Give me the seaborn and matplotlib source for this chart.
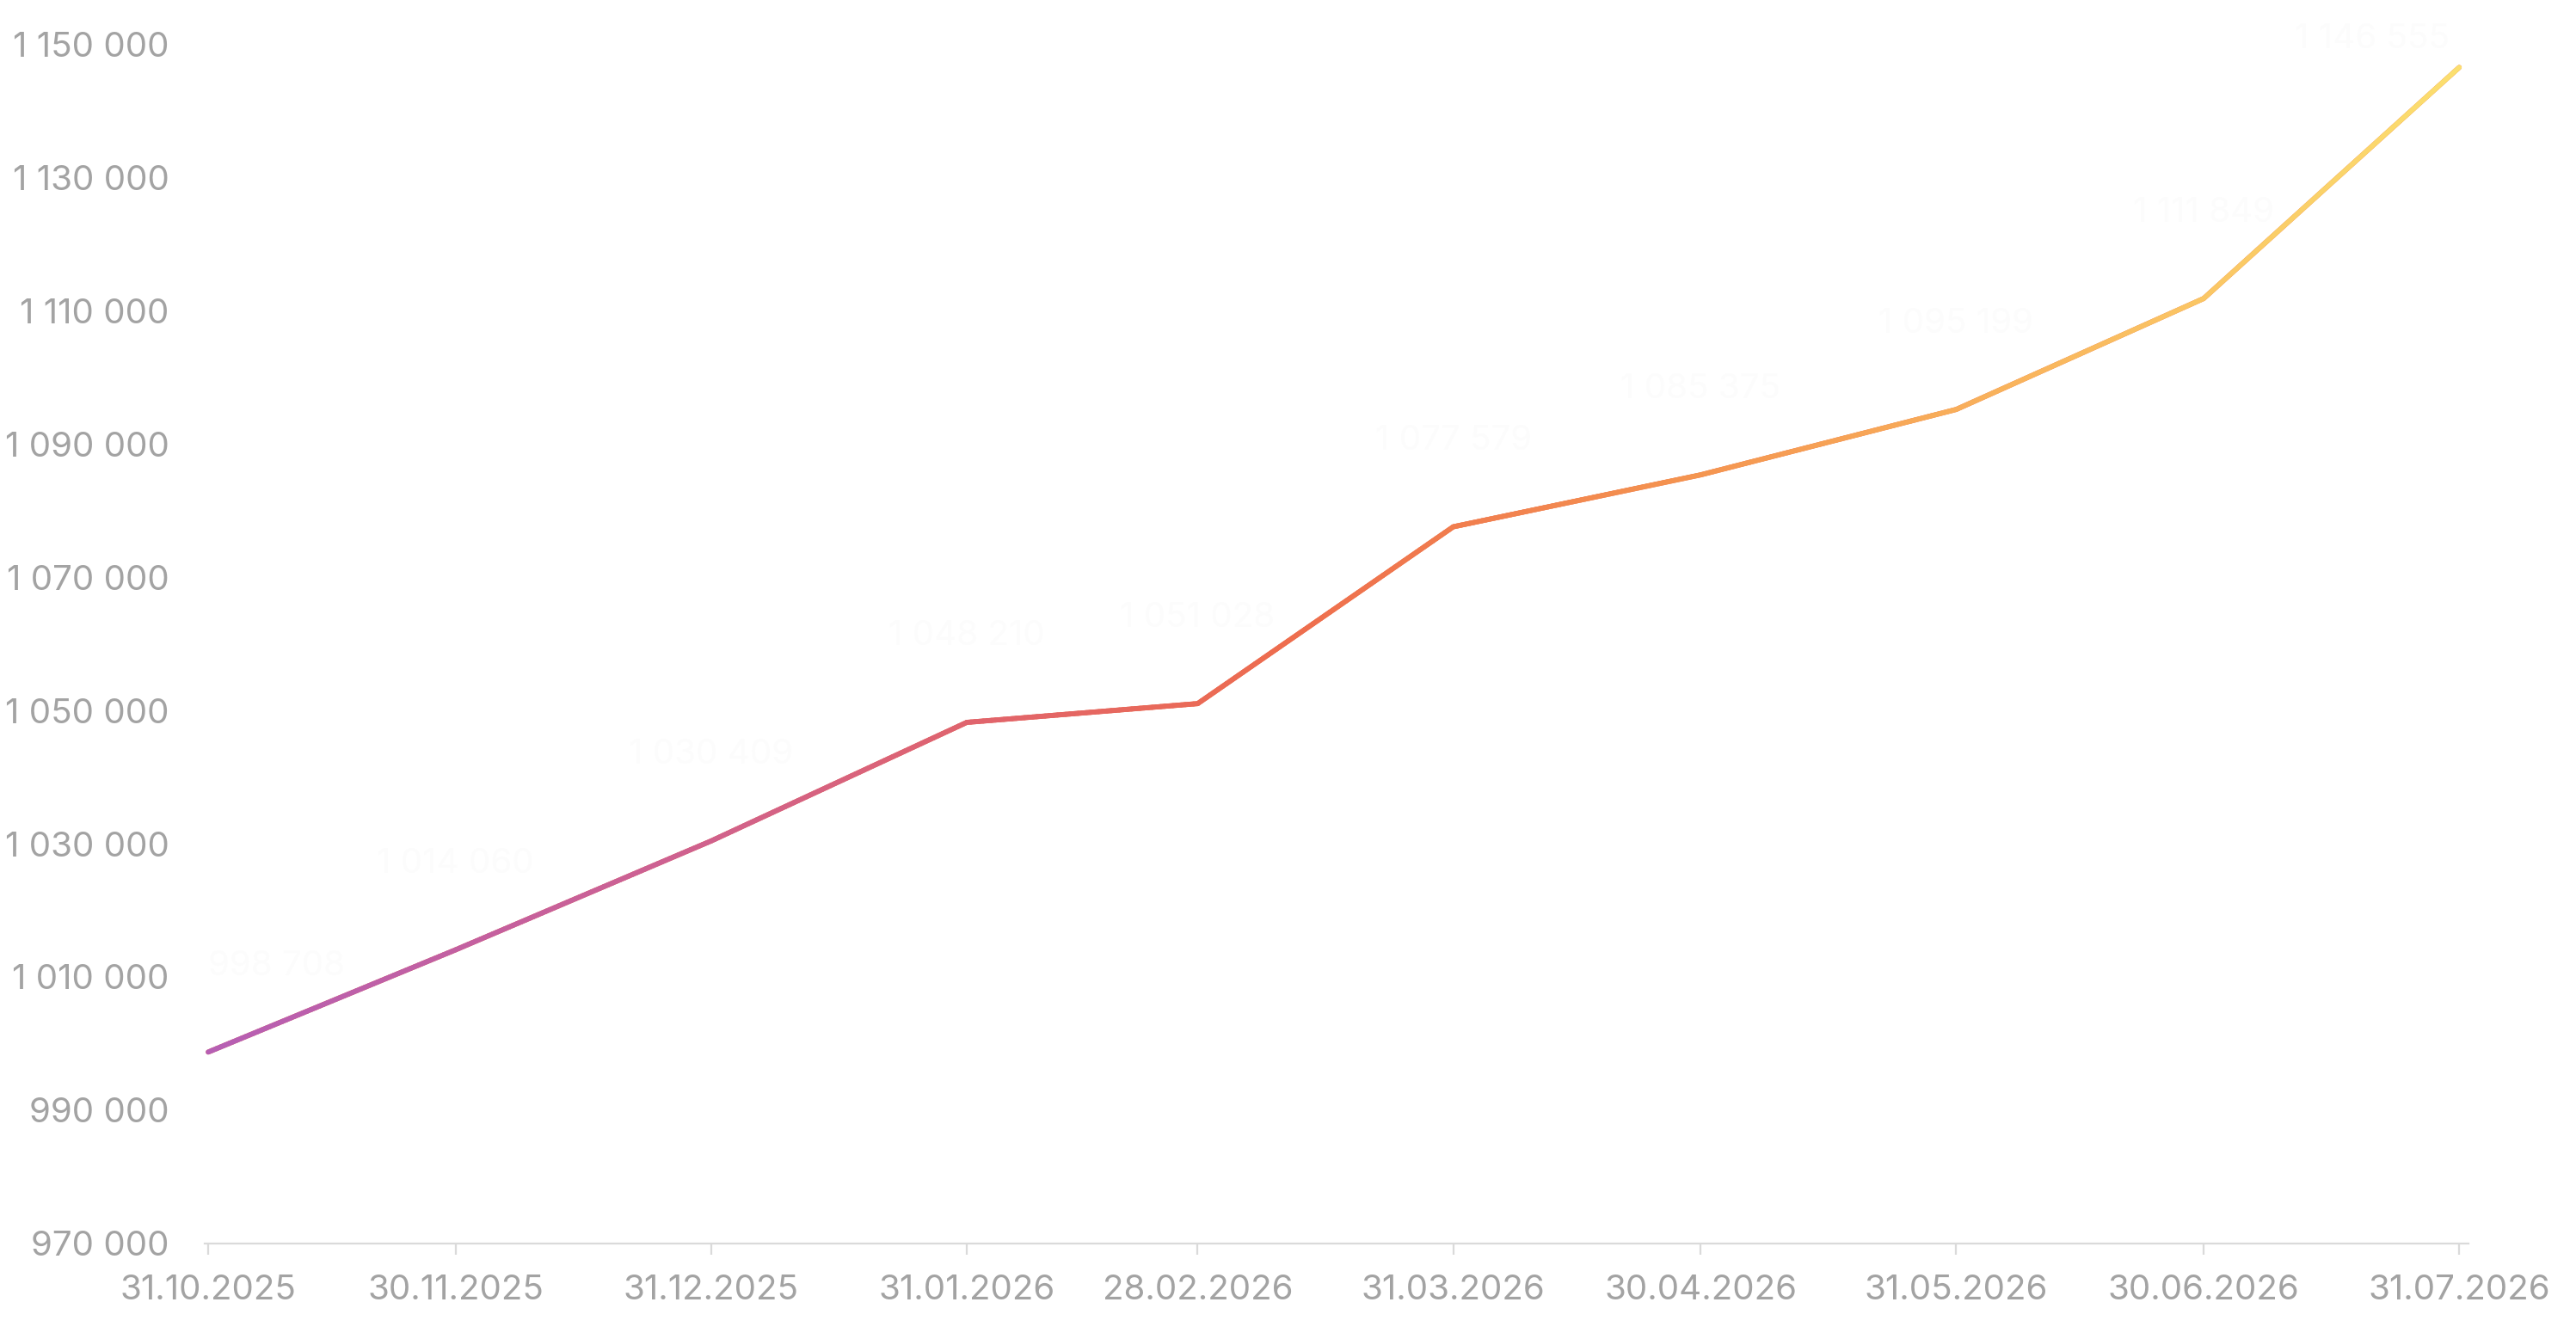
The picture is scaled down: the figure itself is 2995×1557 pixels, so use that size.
import numpy as np
import pandas as pd
import matplotlib
matplotlib.use("Agg")
import matplotlib.pyplot as plt
import matplotlib.dates as mdates
from matplotlib.collections import LineCollection
from matplotlib.colors import LinearSegmentedColormap
from matplotlib.ticker import FixedLocator, FuncFormatter
import seaborn as sns

# Data
dates = ["2025-10-31", "2025-11-30", "2025-12-31", "2026-01-31", "2026-02-28",
         "2026-03-31", "2026-04-30", "2026-05-31", "2026-06-30", "2026-07-31"]
values = [998708, 1014060, 1030409, 1048210, 1051028,
          1077579, 1085375, 1095199, 1111849, 1146555]
y_ticks = [970000, 990000, 1010000, 1030000, 1050000,
           1070000, 1090000, 1110000, 1130000, 1150000]

df = pd.DataFrame({"date": pd.to_datetime(dates), "value": values})

sns.set_theme(style="white")
plt.rcParams["font.family"] = ["Inter", "DejaVu Sans"]

fig = plt.figure(figsize=(29.95, 15.57), dpi=100)
ax = fig.add_axes([0.0795, 0.0715, 0.8789, 0.8953])

# base line through seaborn
sns.lineplot(data=df, x="date", y="value", ax=ax, color="#ef6e4c",
             linewidth=4.2, solid_capstyle="round", solid_joinstyle="round")

# gradient overlay following the seaborn line
grad = LinearSegmentedColormap.from_list("grad", [
    (0.00, "#b65fb4"), (0.20, "#cd6192"), (0.35, "#e1646b"),
    (0.48, "#ee6d4e"), (0.65, "#f4924f"), (0.82, "#f9b75e"),
    (1.00, "#fbdf6f")])
xy = ax.lines[0].get_xydata()
segs = []
for (x0, y0), (x1, y1) in zip(xy[:-1], xy[1:]):
    n = max(int((x1 - x0) * 2), 2)
    t = np.linspace(0, 1, n + 1)
    pts = np.column_stack([x0 + (x1 - x0) * t, y0 + (y1 - y0) * t])
    segs.extend(np.stack([pts[:-1], pts[1:]], axis=1))
segs = np.array(segs)
mid = segs[:, :, 0].mean(axis=1)
frac = (mid - xy[0, 0]) / (xy[-1, 0] - xy[0, 0])
lc = LineCollection(segs, colors=grad(frac), linewidths=4.2,
                    capstyle="round", joinstyle="round", zorder=3)
ax.add_collection(lc)

# almost invisible value labels (as in the reference)
n_pts = len(values)
for i, (d, v) in enumerate(zip(df["date"], values)):
    ha = "left" if i == 0 else ("right" if i == n_pts - 1 else "center")
    dy = 24 if i == n_pts - 1 else 72
    dx = -8 if i == n_pts - 1 else 0
    ax.annotate(f"{v:,}".replace(",", " "), (d, v), xytext=(dx, dy),
                textcoords="offset points", ha=ha, va="center",
                fontsize=29, color="#fcfcfc", zorder=1, annotation_clip=False)

# axes
ax.set_xlim(df["date"].iloc[0] - pd.Timedelta(hours=10),
            df["date"].iloc[-1] + pd.Timedelta(hours=28))
ax.set_ylim(y_ticks[0], y_ticks[-1])
ax.yaxis.set_major_locator(FixedLocator(y_ticks))
ax.yaxis.set_major_formatter(FuncFormatter(lambda v, p: f"{int(v):,}".replace(",", " ")))
ax.set_xticks(df["date"])
ax.xaxis.set_major_formatter(mdates.DateFormatter("%d.%m.%Y"))

for s in ["top", "right", "left"]:
    ax.spines[s].set_visible(False)
ax.spines["bottom"].set_color("#dadada")
ax.spines["bottom"].set_linewidth(1.6)

ax.tick_params(axis="x", which="major", bottom=True, length=9, width=1.6,
               color="#dadada", labelcolor="#a3a3a3", labelsize=29, pad=17)
ax.tick_params(axis="y", left=False, labelcolor="#a3a3a3", labelsize=29, pad=24)
ax.grid(False)
ax.set_xlabel("")
ax.set_ylabel("")

fig.savefig("out.png", dpi=100, facecolor="white")
